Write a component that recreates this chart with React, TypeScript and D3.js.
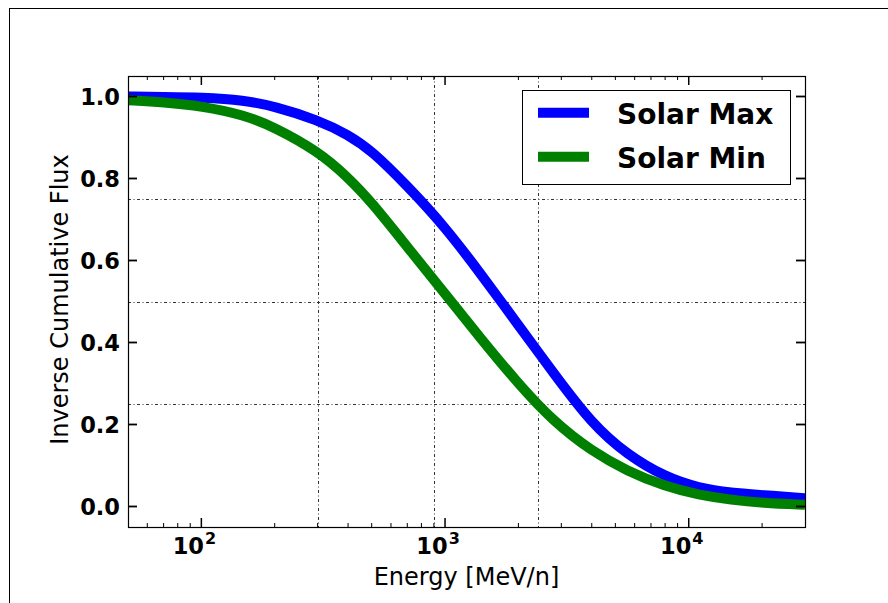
import { useEffect, useRef } from 'react';
import * as d3 from 'd3';

// Energy grid [MeV/n] and inverse cumulative flux
const energies = [50, 70, 100, 150, 200, 300, 400, 500, 700, 1000, 1400, 2000, 2800, 4000, 5600, 8000, 11000, 15000, 20000, 30000];
const solarMax = [1.0, 0.999, 0.998, 0.991, 0.976, 0.943, 0.907, 0.868, 0.782, 0.682, 0.568, 0.442, 0.324, 0.202, 0.126, 0.072, 0.045, 0.033, 0.028, 0.02];
const solarMin = [0.991, 0.986, 0.977, 0.955, 0.925, 0.867, 0.803, 0.742, 0.633, 0.519, 0.41, 0.299, 0.206, 0.135, 0.086, 0.049, 0.028, 0.016, 0.009, 0.004];

const seriesNames = ['Solar Max', 'Solar Min'];
const seriesColors = ['#0000ff', '#008000'];

const yTicks = [0, 0.2, 0.4, 0.6, 0.8, 1.0];
const xMajorTicks = [100, 1000, 10000];
const gridEnergies = [300, 900, 2400];
const gridFlux = [0.25, 0.5, 0.75];

const WIDTH = 888;
const HEIGHT = 603;
const FONT = '"DejaVu Sans", sans-serif';

export default function App() {
  const svgRef = useRef<SVGSVGElement>(null);

  useEffect(() => {
    if (!svgRef.current) return;
    const svg = d3.select(svgRef.current);
    svg.selectAll('*').remove();

    const margin = { top: 76, right: 83, bottom: 76, left: 128 };
    const x0 = margin.left;
    const x1 = WIDTH - margin.right;
    const y0 = margin.top;
    const y1 = HEIGHT - margin.bottom;

    const xScale = d3.scaleLog().domain([50, 30000]).range([x0, x1]);
    const yScale = d3.scaleLinear().domain([-0.05, 1.05]).range([y1, y0]);

    // figure frame
    svg.append('rect')
      .attr('x', 9.5).attr('y', 8.5)
      .attr('width', 1000).attr('height', 1000)
      .attr('fill', 'white')
      .attr('stroke', '#000').attr('stroke-width', 1);

    const defs = svg.append('defs');
    defs.append('clipPath').attr('id', 'plot-clip')
      .append('rect')
      .attr('x', x0).attr('y', y0)
      .attr('width', x1 - x0).attr('height', y1 - y0);

    // dash-dot grid lines
    const dash = '3,2.5,1,2.5';
    svg.selectAll('.grid-h')
      .data(gridFlux)
      .enter()
      .append('line')
      .attr('x1', x0).attr('x2', x1)
      .attr('y1', (d) => Math.round(yScale(d)) + 0.5)
      .attr('y2', (d) => Math.round(yScale(d)) + 0.5)
      .attr('stroke', '#333').attr('stroke-width', 1)
      .attr('stroke-dasharray', dash);

    svg.selectAll('.grid-v')
      .data(gridEnergies)
      .enter()
      .append('line')
      .attr('x1', (d) => Math.round(xScale(d)) + 0.5)
      .attr('x2', (d) => Math.round(xScale(d)) + 0.5)
      .attr('y1', y0).attr('y2', y1)
      .attr('stroke', '#333').attr('stroke-width', 1)
      .attr('stroke-dasharray', dash);

    // curves
    const line = d3.line<number>()
      .x((_, i) => xScale(energies[i]))
      .y((d) => yScale(d))
      .curve(d3.curveBasis);

    const g = svg.append('g').attr('clip-path', 'url(#plot-clip)');
    [solarMax, solarMin].forEach((values, i) => {
      g.append('path')
        .datum(values)
        .attr('fill', 'none')
        .attr('stroke', seriesColors[i])
        .attr('stroke-width', 10)
        .attr('d', line);
    });

    // spines
    svg.append('rect')
      .attr('x', x0 + 0.5).attr('y', y0 + 0.5)
      .attr('width', x1 - x0).attr('height', y1 - y0)
      .attr('fill', 'none')
      .attr('stroke', '#000').attr('stroke-width', 1.2);

    // x ticks (inward, top and bottom)
    const minorTicks: number[] = [];
    for (let p = 10; p <= 10000; p *= 10) {
      for (let k = 2; k <= 9; k++) {
        const v = k * p;
        if (v > 50 && v < 30000) minorTicks.push(v);
      }
    }
    const ticks = svg.append('g').attr('stroke', '#000');
    [y1, y0].forEach((base, side) => {
      const dir = side === 0 ? -1 : 1;
      ticks.selectAll(null)
        .data(minorTicks)
        .enter()
        .append('line')
        .attr('x1', (d) => xScale(d)).attr('x2', (d) => xScale(d))
        .attr('y1', base).attr('y2', base + dir * 4)
        .attr('stroke-width', 1);
      ticks.selectAll(null)
        .data(xMajorTicks)
        .enter()
        .append('line')
        .attr('x1', (d) => xScale(d)).attr('x2', (d) => xScale(d))
        .attr('y1', base).attr('y2', base + dir * 9)
        .attr('stroke-width', 1.5);
    });

    // y ticks (inward, left and right)
    [x0, x1].forEach((base, side) => {
      const dir = side === 0 ? 1 : -1;
      ticks.selectAll(null)
        .data(yTicks)
        .enter()
        .append('line')
        .attr('x1', base).attr('x2', base + dir * 9)
        .attr('y1', (d) => yScale(d)).attr('y2', (d) => yScale(d))
        .attr('stroke-width', 1.8);
    });

    // tick labels
    svg.selectAll('.ylab')
      .data(yTicks)
      .enter()
      .append('text')
      .attr('x', x0 - 8)
      .attr('y', (d) => yScale(d) + 8)
      .attr('text-anchor', 'end')
      .attr('font-family', FONT)
      .attr('font-weight', 'bold')
      .attr('font-size', 22.5)
      .text((d) => d3.format('.1f')(d));

    const xl = svg.selectAll('.xlab')
      .data(xMajorTicks)
      .enter()
      .append('text')
      .attr('x', (d) => xScale(d) - 7)
      .attr('y', y1 + 27)
      .attr('text-anchor', 'middle')
      .attr('font-family', FONT)
      .attr('font-weight', 'bold')
      .attr('font-size', 22.5);
    xl.append('tspan').text('10');
    xl.append('tspan')
      .attr('font-size', 16)
      .attr('dy', -10)
      .attr('dx', 1)
      .text((d) => String(Math.round(Math.log10(d))));

    // axis titles
    svg.append('text')
      .attr('x', (x0 + x1) / 2)
      .attr('y', 585)
      .attr('text-anchor', 'middle')
      .attr('font-family', FONT)
      .attr('font-size', 24)
      .attr('fill', '#000')
      .text('Energy [MeV/n]');

    svg.append('text')
      .attr('transform', `translate(68, ${(y0 + y1) / 2 - 2}) rotate(-90)`)
      .attr('text-anchor', 'middle')
      .attr('font-family', FONT)
      .attr('font-size', 24)
      .attr('fill', '#000')
      .text('Inverse Cumulative Flux');

    // legend
    const legend = svg.append('g');
    legend.append('rect')
      .attr('x', 522.5).attr('y', 90.5)
      .attr('width', 268).attr('height', 94)
      .attr('fill', 'white')
      .attr('stroke', '#000').attr('stroke-width', 1);

    seriesNames.forEach((name, i) => {
      const cy = 112.7 + i * 44;
      legend.append('line')
        .attr('x1', 538).attr('x2', 589)
        .attr('y1', cy).attr('y2', cy)
        .attr('stroke', seriesColors[i])
        .attr('stroke-width', 10);
      legend.append('text')
        .attr('x', 617)
        .attr('y', cy + 11)
        .attr('font-family', FONT)
        .attr('font-weight', 'bold')
        .attr('font-size', 28)
        .text(name);
    });
  }, []);

  return (
    <div style={{ position: 'absolute', left: 0, top: 0, width: WIDTH, height: HEIGHT, background: 'white' }}>
      <svg ref={svgRef} width={WIDTH} height={HEIGHT} style={{ display: 'block' }} />
    </div>
  );
}
